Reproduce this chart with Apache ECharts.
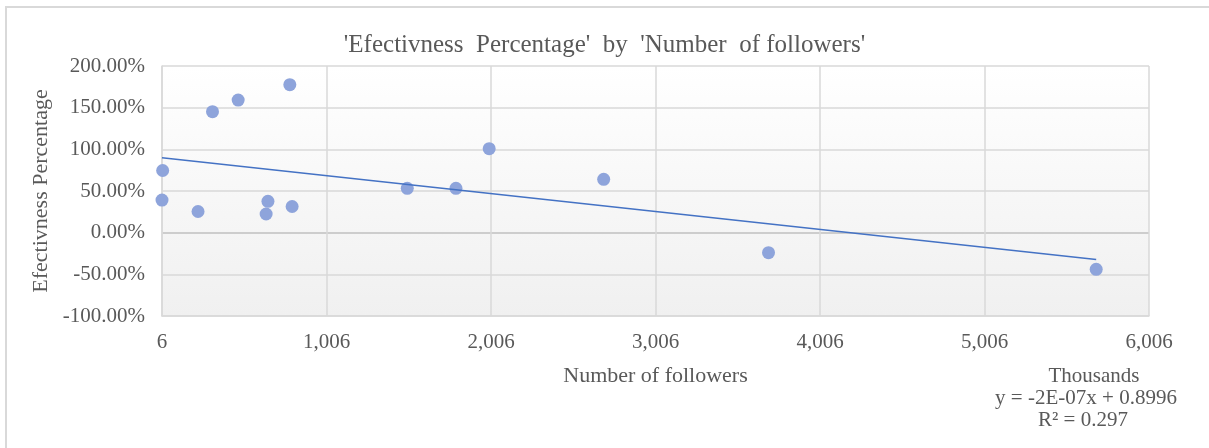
<!DOCTYPE html>
<html>
<head>
<meta charset="utf-8">
<script src="https://cdn.jsdelivr.net/npm/echarts@6/dist/echarts.min.js"></script>
<style>
  html, body { margin: 0; padding: 0; background: #ffffff; }
  #chart { width: 1209px; height: 448px; }
</style>
</head>
<body>
<div id="chart"></div>
<script>
// Number of followers (thousands) and effectiveness (%) per account
const followersK = [10, 6, 225, 313, 469, 783, 650, 639, 797, 1497, 1793, 1995, 2691, 3693, 5685];
const effectivenessPct = [74.6, 39.1, 25.4, 145.2, 159.1, 177.6, 37.6, 22.4, 31.4, 53.2, 53.2, 100.8, 64.0, -24.0, -44.0];

// Linear trend (per follower, as a fraction)
const trendSlope = -2.15e-7;
const trendIntercept = 0.8996;
const trendEquation = 'y = -2E-07x + 0.8996';
const trendR2 = 'R² = 0.297';

// Axis ranges
const xTicks = { min: 6, max: 6006, step: 1000 };
const yTicks = { min: -100, max: 200, step: 50 };

const points = followersK.map((x, i) => [x, effectivenessPct[i]]);
const xLo = Math.min(...followersK), xHi = Math.max(...followersK);
const trendAt = xk => (trendIntercept + trendSlope * xk * 1000) * 100;
const trendPoints = [[xLo, trendAt(xLo)], [xHi, trendAt(xHi)]];

const serif = '"Liberation Serif", "Times New Roman", serif';
const textGray = '#595959';
const gridGray = '#d9d9d9';

// zero line is drawn a shade darker than the other horizontal grid lines
const ySplitColors = [];
for (let v = yTicks.min; v <= yTicks.max; v += yTicks.step) {
  ySplitColors.push(v === 0 ? '#bfbfbf' : gridGray);
}

const chart = echarts.init(document.getElementById('chart'));
chart.setOption({
  animation: false,
  backgroundColor: '#ffffff',
  title: {
    text: "'Efectivness  Percentage'  by  'Number  of followers'",
    left: 'center',
    top: 28,
    textStyle: { fontFamily: serif, fontSize: 25, fontWeight: 'normal', color: textGray }
  },
  grid: {
    left: 162, right: 60, top: 66, bottom: 132,
    show: true,
    borderWidth: 0,
    backgroundColor: {
      type: 'linear', x: 0, y: 0, x2: 0, y2: 1,
      colorStops: [{ offset: 0, color: '#ffffff' }, { offset: 1, color: '#f0f0f0' }]
    }
  },
  xAxis: {
    type: 'value',
    min: xTicks.min, max: xTicks.max, interval: xTicks.step,
    name: 'Number of followers',
    nameLocation: 'middle',
    nameGap: 49,
    nameTextStyle: { fontFamily: serif, fontSize: 22, color: textGray },
    axisLine: { show: true, onZero: false, lineStyle: { color: gridGray, width: 1.5 } },
    axisTick: { show: false },
    axisLabel: {
      fontFamily: serif, fontSize: 21, color: textGray, margin: 16,
      formatter: v => Math.round(v).toLocaleString('en-US')
    },
    splitLine: { show: true, lineStyle: { color: gridGray, width: 1.5 } }
  },
  yAxis: {
    type: 'value',
    min: yTicks.min, max: yTicks.max, interval: yTicks.step,
    name: 'Efectivness Percentage',
    nameLocation: 'middle',
    nameGap: 108,
    nameTextStyle: { fontFamily: serif, fontSize: 22, color: textGray },
    axisLine: { show: true, lineStyle: { color: gridGray, width: 1.5 } },
    axisTick: { show: false },
    axisLabel: {
      fontFamily: serif, fontSize: 21, color: textGray, margin: 17,
      formatter: v => v.toFixed(2) + '%'
    },
    splitLine: { show: true, lineStyle: { color: ySplitColors, width: 1.5 } }
  },
  series: [
    {
      name: 'Efectivness Percentage',
      type: 'scatter',
      data: points,
      symbol: 'circle',
      symbolSize: 13,
      itemStyle: { color: '#8ea4db', opacity: 1 },
      z: 3
    },
    {
      name: 'Linear trend',
      type: 'line',
      data: trendPoints,
      symbol: 'none',
      lineStyle: { color: '#4472c4', width: 1.5 },
      silent: true,
      z: 4
    }
  ],
  graphic: [
    {
      type: 'rect', silent: true, z: -1,
      shape: { x: 6, y: 7, width: 1300, height: 600 },
      style: { fill: 'none', stroke: '#d9d9d9', lineWidth: 2 }
    },
    {
      type: 'text', x: 1094, y: 376, silent: true,
      style: { text: 'Thousands', align: 'center', verticalAlign: 'middle',
               font: '21px ' + serif, fill: textGray }
    },
    {
      type: 'text', x: 1086, y: 398, silent: true,
      style: { text: trendEquation, align: 'center', verticalAlign: 'middle',
               font: '21px ' + serif, fill: textGray }
    },
    {
      type: 'text', x: 1083, y: 420, silent: true,
      style: { text: trendR2, align: 'center', verticalAlign: 'middle',
               font: '21px ' + serif, fill: textGray }
    }
  ]
});
</script>
</body>
</html>
